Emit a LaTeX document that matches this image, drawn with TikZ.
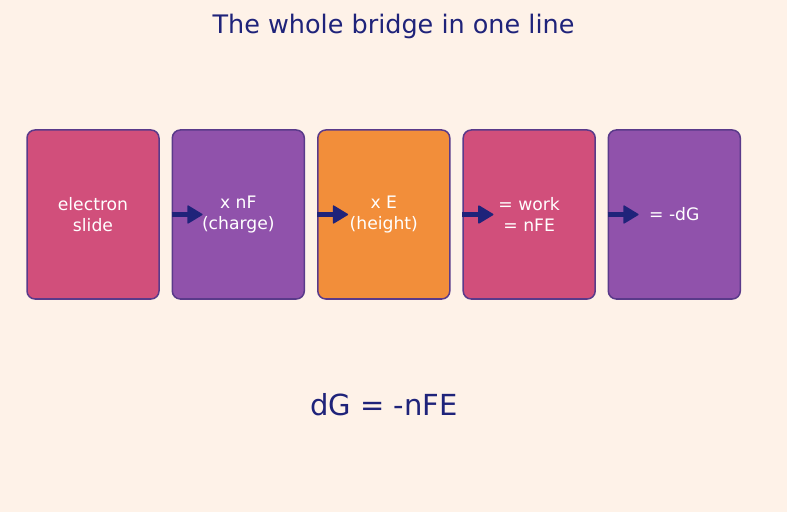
\documentclass[tikz,border=0pt]{standalone}
\usepackage{fontspec}
\setmainfont{DejaVu Sans}
\usetikzlibrary{arrows.meta}
\definecolor{bg}{HTML}{FEF2E8}
\definecolor{navy}{HTML}{1F237A}
\definecolor{pinkc}{HTML}{D14F7B}
\definecolor{purpc}{HTML}{9052AB}
\definecolor{orgc}{HTML}{F28E3A}
\definecolor{edgec}{HTML}{5A3A8A}
\tikzset{
  x=1pt,y=1pt,
  card/.style={draw=edgec, line width=1.5pt, rounded corners=8pt, minimum width=132pt, minimum height=169pt, inner sep=0pt, text=white, align=center, font=\fontsize{17.2}{21}\selectfont},
  arr/.style={draw=navy, line width=5pt, -{Triangle[length=16pt,width=19pt,line join=round,line width=1.5pt]}},
}
\begin{document}
\begin{tikzpicture}
\fill[bg] (0,0) rectangle (787,512);
\useasboundingbox (0,0) rectangle (787,512);
\node[text=navy, font=\fontsize{25.5}{30}\selectfont] (title) at (393.5,486) {The whole bridge in one line};
\node[card, fill=pinkc] (b1) at (93,297.5) {electron\\slide};
\node[card, fill=purpc] (b2) at (238.3,297.5) {x nF\\(charge)};
\node[card, fill=orgc] (b3) at (383.8,297.5) {x E\\(height)};
\node[card, fill=pinkc] (b4) at (529.2,297.5) {= work\\= nFE};
\node[card, fill=purpc] (b5) at (674.3,297.5) {= -dG};
\foreach \i in {2,3,4,5}{
  \coordinate (t\i) at ([xshift=31pt]b\i.west);
  \draw[arr] (b\i.west) -- (t\i);
}
\node[text=navy, font=\fontsize{29}{34}\selectfont] (eq) at (384,107) {dG = -nFE};
\end{tikzpicture}
\end{document}
